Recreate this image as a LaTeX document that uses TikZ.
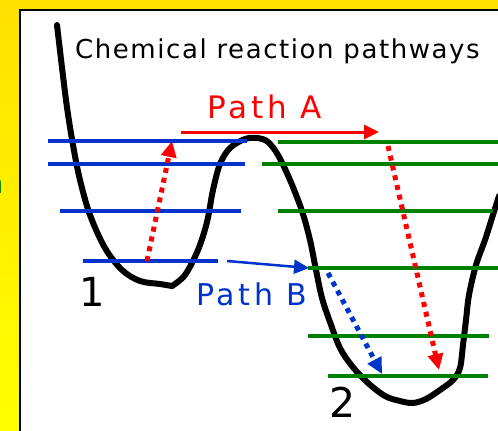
\documentclass[tikz,border=0pt]{standalone}
\usepackage{fontspec}
\setmainfont{DejaVu Sans}
\newfontfamily\lsfont[LetterSpace=6]{DejaVu Sans}
\newfontfamily\lswide[LetterSpace=12.5]{DejaVu Sans}
\usetikzlibrary{arrows.meta}
\definecolor{ylwtop}{RGB}{255,226,0}
\definecolor{ylwbot}{RGB}{255,255,0}
\definecolor{lvblue}{RGB}{0,51,204}
\definecolor{lvgreen}{RGB}{0,128,0}
\definecolor{pathred}{RGB}{255,0,0}
\begin{document}
\begin{tikzpicture}[x=1pt,y=-1pt,
  level/.style={line width=4pt},
  bluelevel/.style={level,draw=lvblue},
  greenlevel/.style={level,draw=lvgreen},
  potential/.style={line width=6pt,line join=round,line cap=round,draw=black},
  jump/.style={line width=5pt,dash pattern=on 5pt off 5pt,-{Triangle[length=16pt,width=15pt]}},
  route/.style={-{Triangle[length=15pt,width=14pt]}},
  txt/.style={inner sep=0pt,anchor=base west,font=\lsfont}
]
\useasboundingbox (0,0) rectangle (498,431);
\begin{scope}
\clip (0,0) rectangle (498,431);
\shade[top color=ylwtop,bottom color=ylwbot] (0,0) rectangle (498,431);
\draw[line width=2.2pt,fill=white] (20,9.8) rectangle (520,450);
\node[txt,text=lvgreen,font=\fontsize{29}{34}\selectfont] (frag) at (-14.3,193) {n};

% potential energy curve
\draw[potential] plot[smooth,tension=0.55] coordinates {(57,25) (66,100) (73,145) (80,180) (90,215) (105,248) (122,270) (140,281) (160,284) (172,286)};
\draw[potential] plot[smooth,tension=0.55] coordinates {(172,286) (185,275) (198,250) (207,222) (213,190) (220,164) (230,148) (245,139) (258,138) (268,142) (278,155) (290,180) (302,211) (310,240) (316,270) (322,298) (330,322) (340,348) (352,366) (368,383) (385,396) (400,401) (413,403) (426,399) (440,390) (453,380) (460,368) (463,345) (466,320) (469,295) (476,265) (485,240) (492,218) (499,196)};

% levels of well 1
\draw[bluelevel] (48,140.5) -- (247,140.5);
\draw[bluelevel] (48,164) -- (245,164);
\draw[bluelevel] (60,211) -- (241,211);
\draw[bluelevel] (83,261) -- (218,261);
% levels of well 2
\draw[greenlevel] (278,142) -- (498,142);
\draw[greenlevel] (262,164) -- (498,164);
\draw[greenlevel] (278,211) -- (493,211);
\draw[greenlevel] (308,268) -- (498,268);
\draw[greenlevel] (308,336) -- (489,336);
\draw[greenlevel] (328,376) -- (488,376);

% arrow end points
\coordinate (A1s) at (147,261);
\coordinate (A1e) at (172,141);
\coordinate (A2s) at (388,146);
\coordinate (A2e) at (439,370);
\coordinate (Bds) at (328,273);
\coordinate (Bde) at (382,374);
\coordinate (PAs) at (181,132);
\coordinate (PAe) at (379,132);
\coordinate (PBs) at (227,261);
\coordinate (PBe) at (309,268);

\draw[jump,pathred] (A1s) -- (A1e);
\draw[jump,pathred] (A2s) -- (A2e);
\draw[jump,lvblue] (Bds) -- (Bde);
\draw[route,pathred,line width=3pt] (PAs) -- (PAe);
\draw[route,lvblue,line width=2.5pt] (PBs) -- (PBe);

% labels
\node[txt,font=\lsfont\fontsize{26}{30}\selectfont] (title) at (75,58) {Chemical reaction pathways};
\node[txt,text=pathred,font=\lswide\fontsize{31}{36}\selectfont] (labA) at (207,118) {Path A};
\node[txt,text=lvblue,font=\lswide\fontsize{30}{36}\selectfont] (labB) at (196,305) {Path B};
\node[txt,font=\fontsize{40}{46}\selectfont] (well1) at (79,306) {1};
\node[txt,font=\fontsize{41}{46}\selectfont] (well2) at (329,417) {2};
\end{scope}
\end{tikzpicture}
\end{document}
